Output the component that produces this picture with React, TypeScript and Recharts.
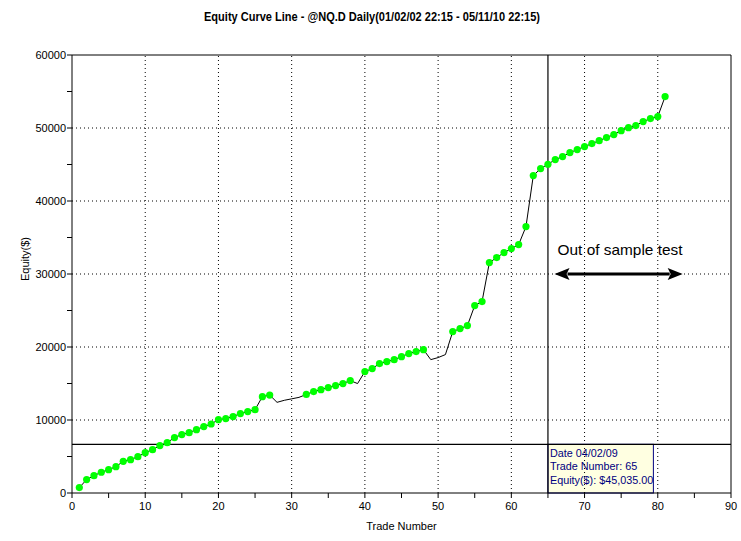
import React from 'react';
import { LineChart, Line, XAxis, YAxis, ReferenceLine, ReferenceArea, Label } from 'recharts';

const FONT = '"Liberation Sans", Arial, sans-serif';

const title = 'Equity Curve Line - @NQ.D Daily(01/02/02 22:15 - 05/11/10 22:15)';

const tradeNumbers = [
  1, 2, 3, 4, 5, 6, 7, 8, 9, 10, 11, 12, 13, 14, 15, 16, 17, 18, 19, 20,
  21, 22, 23, 24, 25, 26, 27, 28, 29, 30, 31, 32, 33, 34, 35, 36, 37, 38, 39, 40,
  41, 42, 43, 44, 45, 46, 47, 48, 49, 50, 51, 52, 53, 54, 55, 56, 57, 58, 59, 60,
  61, 62, 63, 64, 65, 66, 67, 68, 69, 70, 71, 72, 73, 74, 75, 76, 77, 78, 79, 80, 81,
];

const equity = [
  740, 1840, 2380, 2840, 3200, 3610, 4340, 4570, 4980, 5530,
  5940, 6490, 6900, 7590, 8000, 8270, 8680, 9100, 9450, 10050,
  10190, 10470, 10880, 11150, 11420, 13200, 13420, 12420, 12700, 12900,
  13100, 13500, 13890, 14160, 14440, 14710, 14990, 15400, 14990, 16630,
  17040, 17730, 18000, 18270, 18680, 19100, 19370, 19640, 18270, 18550,
  18960, 22110, 22520, 22930, 25670, 26220, 31560, 32250, 32930, 33480,
  34030, 36490, 43480, 44440, 45035, 45670, 46080, 46630, 47040, 47450,
  47860, 48270, 48690, 49100, 49640, 50050, 50330, 50880, 51290, 51560, 54300,
];

const xTicks = [0, 5, 10, 15, 20, 25, 30, 35, 40, 45, 50, 55, 60, 65, 70, 75, 80, 85, 90];
const yTicks = [0, 5000, 10000, 15000, 20000, 25000, 30000, 35000, 40000, 45000, 50000, 55000, 60000];
const gridX = [10, 20, 30, 40, 50, 60, 70, 80];
const gridY = [10000, 20000, 30000, 40000, 50000];

// crosshair + hover box
const cursorTrade = 65;
const cursorEquity = 6670;
const tipRight = 79.4;
const tipLines = ['Date 04/02/09', 'Trade Number: 65', 'Equity($): $45,035.00'];

// annotation
const note = 'Out of sample test';
const arrowFrom = 65.9;
const arrowTo = 83.4;
const arrowLevel = 30000;

const data = tradeNumbers.map((t, i) => ({ trade: t, equity: equity[i] }));

// markers only on new equity highs
let peak = -Infinity;
const newHigh = equity.map((v) => {
  const h = v > peak;
  if (h) peak = v;
  return h;
});

const HighDot = (p: any) => {
  const { cx, cy, index } = p;
  if (!newHigh[index]) return <g key={`d${index}`} />;
  return <circle key={`d${index}`} cx={cx} cy={cy} r={3.6} fill="#00ff00" />;
};

const Arrow = (p: any) => {
  const { x1, y1, x2, y2 } = p;
  const L = 15;
  const H = 6;
  return (
    <g>
      <line x1={x1 + L - 2} y1={y1} x2={x2 - L + 2} y2={y2} stroke="#000" strokeWidth={3} />
      <polygon points={`${x1},${y1} ${x1 + L},${y1 - H} ${x1 + L - 3},${y1} ${x1 + L},${y1 + H}`} fill="#000" />
      <polygon points={`${x2},${y2} ${x2 - L},${y2 - H} ${x2 - L + 3},${y2} ${x2 - L},${y2 + H}`} fill="#000" />
      <text x={x1 + 3} y={y1 - 19} fontSize={15} fontFamily={FONT} fill="#000" textLength={125} lengthAdjust="spacingAndGlyphs">
        {note}
      </text>
    </g>
  );
};

const TipBox = (p: any) => {
  const { x, y, width, height } = p;
  return (
    <g>
      <rect x={x} y={y} width={width} height={height} fill="#ffffe1" stroke="#000080" />
      {tipLines.map((s, i) => (
        <text key={s} x={x + 2} y={y + 12.5 + i * 13.6} fontSize={10.8} fontFamily={FONT} fill="#000080">
          {s}
        </text>
      ))}
    </g>
  );
};

const dotted = { stroke: '#000', strokeDasharray: '1 3', strokeWidth: 1 };
const tickStyle = { fill: '#000', fontSize: 11, fontFamily: FONT };

export default function App() {
  return (
    <div style={{ position: 'absolute', left: 0, top: 0, width: 741, height: 541, background: '#fff' }}>
      <svg width={741} height={30} style={{ position: 'absolute', left: 0, top: 0 }}>
        <text x={204} y={21} fontSize={13} fontWeight="bold" fontFamily={FONT} textLength={336} lengthAdjust="spacingAndGlyphs">
          {title}
        </text>
      </svg>
      <LineChart width={741} height={541} data={data} margin={{ top: 55, right: 10, left: 0, bottom: 18 }}>
        <XAxis
          dataKey="trade"
          type="number"
          domain={[0, 90]}
          ticks={xTicks}
          interval={0}
          tickFormatter={(v: number) => (v % 10 === 0 ? String(v) : '')}
          tick={tickStyle}
          tickSize={5}
          tickMargin={4}
          height={30}
          axisLine={{ stroke: '#000' }}
          tickLine={{ stroke: '#000' }}
        >
          <Label
            content={(lp: any) => {
              const vb = lp.viewBox;
              return (
                <text x={vb.x + vb.width / 2} y={vb.y + 37} textAnchor="middle" fontSize={11} fontFamily={FONT} fill="#000">
                  Trade Number
                </text>
              );
            }}
          />
        </XAxis>
        <YAxis
          type="number"
          domain={[0, 60000]}
          ticks={yTicks}
          interval={0}
          tickFormatter={(v: number) => (v % 10000 === 0 ? String(v) : '')}
          tick={tickStyle}
          tickSize={5}
          tickMargin={1}
          width={72}
          axisLine={{ stroke: '#000' }}
          tickLine={{ stroke: '#000' }}
        >
          <Label
            content={() => (
              <text x={29} y={259} transform="rotate(-90 29 259)" textAnchor="middle" fontSize={11} fontFamily={FONT} fill="#000">
                Equity($)
              </text>
            )}
          />
        </YAxis>
        {gridY.map((v) => (
          <ReferenceLine key={`gy${v}`} y={v} {...dotted} />
        ))}
        {gridX.map((v) => (
          <ReferenceLine key={`gx${v}`} x={v} {...dotted} />
        ))}
        <ReferenceLine y={60000} stroke="#000" />
        <ReferenceLine x={90} stroke="#000" />
        <ReferenceArea x1={cursorTrade} x2={tipRight} y1={0} y2={cursorEquity} shape={TipBox} />
        <ReferenceLine x={cursorTrade} stroke="#000" strokeWidth={1.2} />
        <ReferenceLine y={cursorEquity} stroke="#000" strokeWidth={1.2} />
        <ReferenceLine
          segment={[
            { x: arrowFrom, y: arrowLevel },
            { x: arrowTo, y: arrowLevel },
          ]}
          shape={Arrow}
        />
        <Line
          type="linear"
          dataKey="equity"
          stroke="#000"
          strokeWidth={1}
          dot={HighDot}
          activeDot={false}
          isAnimationActive={false}
        />
      </LineChart>
    </div>
  );
}
